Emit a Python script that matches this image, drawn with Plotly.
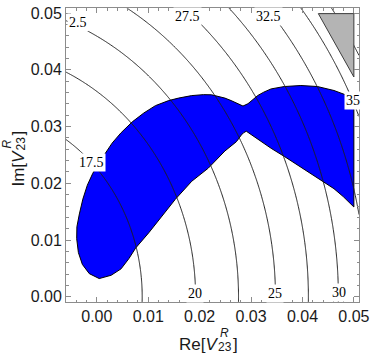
import numpy as np
import plotly.graph_objects as go

# ---------------- data ----------------
# contour model (read from where the labelled contours cross the axes):
# f(Re, Im) = F_MIN + CURV * ((Re - RE_CENTER)^2 + Im^2)
RE_CENTER = -0.0245
F_MIN = 14.03
CURV = 3125.0
LEVEL_START = 17.5
LEVEL_END = 37.5
LEVEL_STEP = 2.5

# allowed (blue) region boundary
BLUE_RE = [0.00046, -0.00147, -0.00282, -0.00359, -0.00392, -0.00388, -0.00340, -0.00272,
           -0.00185, -0.00079, 0.00046, 0.00181, 0.00297, 0.00471, 0.00689, 0.00915,
           0.01140, 0.01397, 0.01590, 0.01846, 0.02072, 0.02232, 0.02362, 0.02491,
           0.02612, 0.02747, 0.02843, 0.02940, 0.03036, 0.03133, 0.03248, 0.03390,
           0.03648, 0.03969, 0.04291, 0.04613, 0.04870, 0.05000, 0.05000, 0.04793,
           0.04613, 0.04291, 0.03969, 0.03648, 0.03390, 0.03133, 0.02973, 0.02908,
           0.02854, 0.02811, 0.02715, 0.02491, 0.02169, 0.01846, 0.01526, 0.01262,
           0.01011, 0.00754, 0.00625, 0.00471, 0.00278, 0.00046]
BLUE_IM = [0.00321, 0.00408, 0.00571, 0.00780, 0.01024, 0.01234, 0.01460, 0.01722,
           0.01967, 0.02176, 0.02368, 0.02543, 0.02708, 0.02891, 0.03083, 0.03240,
           0.03369, 0.03458, 0.03502, 0.03546, 0.03563, 0.03560, 0.03537, 0.03502,
           0.03458, 0.03403, 0.03362, 0.03403, 0.03476, 0.03549, 0.03607, 0.03664,
           0.03706, 0.03724, 0.03706, 0.03636, 0.03549, 0.03490, 0.01583, 0.01766,
           0.01905, 0.02094, 0.02298, 0.02473, 0.02617, 0.02778, 0.02879, 0.02918,
           0.02891, 0.02851, 0.02734, 0.02569, 0.02268, 0.02036, 0.01717, 0.01408,
           0.01129, 0.00858, 0.00675, 0.00492, 0.00379, 0.00321]

# excluded (gray) corner
GRAY_RE = [0.04309, 0.05000, 0.05000, 0.04309]
GRAY_IM = [0.04991, 0.04991, 0.03874, 0.04991]

# contour labels
LABEL_TEXT = ["2.5", "17.5", "27.5", "32.5", "35", "20", "25", "30"]
LABEL_RE = [-0.00376, -0.00106, 0.01766, 0.03330, 0.04990, 0.01902, 0.03465, 0.04710]
LABEL_IM = [0.04834, 0.02373, 0.04939, 0.04939, 0.03455, 0.00052, 0.00052, 0.00070]

X_TICKS = [0.00, 0.01, 0.02, 0.03, 0.04, 0.05]
X_TICK_LABELS = ["0.00", "0.01", "0.02", "0.03", "0.04", "0.05"]
Y_TICKS = [0.00, 0.01, 0.02, 0.03, 0.04, 0.05]
Y_TICK_LABELS = ["0.00", "0.01", "0.02", "0.03", "0.04", "0.05"]

X_RANGE = [-0.0060, 0.0510]
Y_RANGE = [-0.00092, 0.0509]

# ---------------- figure ----------------
W, H = 374, 357
ML, MR, MT, MB = 66, 11, 5, 55
PW, PH = W - ML - MR, H - MT - MB


def paper(px, py):
    return (px - ML) / PW, (H - MB - py) / PH


xs = np.linspace(X_RANGE[0], X_RANGE[1], 320)
ys = np.linspace(Y_RANGE[0], Y_RANGE[1], 320)
XX, YY = np.meshgrid(xs, ys)
ZZ = F_MIN + CURV * ((XX - RE_CENTER) ** 2 + YY ** 2)

fig = go.Figure()

fig.add_trace(go.Scatter(
    x=BLUE_RE, y=BLUE_IM, mode="lines", fill="toself",
    fillcolor="#0000ff", line=dict(color="#000000", width=1),
    hoverinfo="skip", showlegend=False, xaxis="x", yaxis="y"))

fig.add_trace(go.Contour(
    x=xs, y=ys, z=ZZ, xaxis="x2", yaxis="y2",
    contours=dict(start=LEVEL_START, end=LEVEL_END, size=LEVEL_STEP, coloring="lines"),
    colorscale=[[0, "#1e1e1e"], [1, "#1e1e1e"]],
    line=dict(width=1), showscale=False, hoverinfo="skip"))

fig.add_trace(go.Scatter(
    x=GRAY_RE, y=GRAY_IM, mode="lines", fill="toself",
    fillcolor="#b4b4b4", line=dict(color="#3c3c3c", width=1),
    hoverinfo="skip", showlegend=False, xaxis="x2", yaxis="y2"))

frame = "#8c8c8c"
tickfont = dict(family="Liberation Sans, Arial, sans-serif", size=16, color="#1a1a1a")
common = dict(ticks="inside", ticklen=5, tickwidth=1, tickcolor=frame,
              showline=True, linecolor=frame, linewidth=1, mirror="allticks",
              showgrid=False, zeroline=False, tickfont=tickfont,
              minor=dict(ticks="inside", ticklen=2.5, tickcolor=frame,
                         tickmode="linear", tick0=0, dtick=0.002, showgrid=False))

annotations = []
for t, xr, yi in zip(LABEL_TEXT, LABEL_RE, LABEL_IM):
    annotations.append(dict(
        x=xr, y=yi, xref="x", yref="y", text=t, showarrow=False,
        font=dict(family="Liberation Serif, Times New Roman, serif", size=14, color="#000"),
        bgcolor="#ffffff", borderpad=1, xanchor="center", yanchor="middle"))

tfont = dict(family="Liberation Sans, Arial, sans-serif", size=17, color="#1a1a1a")
sfont = dict(family="Liberation Sans, Arial, sans-serif", size=12, color="#1a1a1a")

# x title: Re[V^R_23] with stacked super/subscript
px0, py0 = paper(222, 344.5)
annotations.append(dict(x=px0, y=py0, xref="paper", yref="paper", text="Re[<i>V</i>",
                        showarrow=False, font=tfont, xanchor="right", yanchor="middle"))
px0, py0 = paper(220, 333.5)
annotations.append(dict(x=px0, y=py0, xref="paper", yref="paper", text="<i>R</i>",
                        showarrow=False, font=sfont, xanchor="left", yanchor="middle"))
px0, py0 = paper(218.5, 347.5)
annotations.append(dict(x=px0, y=py0, xref="paper", yref="paper", text="23",
                        showarrow=False, font=sfont, xanchor="left", yanchor="middle"))
px0, py0 = paper(233.5, 344.5)
annotations.append(dict(x=px0, y=py0, xref="paper", yref="paper", text="]",
                        showarrow=False, font=tfont, xanchor="left", yanchor="middle"))

# y title: Im[V^R_23], rotated
cx_main = 17.5
px0, py0 = paper(cx_main, 167)
annotations.append(dict(x=px0, y=py0, xref="paper", yref="paper", text="Im[<i>V</i>",
                        showarrow=False, font=tfont, textangle=-90,
                        xanchor="center", yanchor="middle"))
px0, py0 = paper(cx_main - 10.8, 142.5)
annotations.append(dict(x=px0, y=py0, xref="paper", yref="paper", text="<i>R</i>",
                        showarrow=False, font=sfont, textangle=-90,
                        xanchor="center", yanchor="middle"))
px0, py0 = paper(cx_main + 3.2, 141.5)
annotations.append(dict(x=px0, y=py0, xref="paper", yref="paper", text="23",
                        showarrow=False, font=sfont, textangle=-90,
                        xanchor="center", yanchor="middle"))
px0, py0 = paper(cx_main, 131.5)
annotations.append(dict(x=px0, y=py0, xref="paper", yref="paper", text="]",
                        showarrow=False, font=tfont, textangle=-90,
                        xanchor="center", yanchor="middle"))

fig.update_layout(
    width=W, height=H,
    margin=dict(l=ML, r=MR, t=MT, b=MB),
    paper_bgcolor="#ffffff", plot_bgcolor="#ffffff",
    showlegend=False,
    xaxis=dict(range=X_RANGE, tickmode="array", tickvals=X_TICKS, ticktext=X_TICK_LABELS, **common),
    yaxis=dict(range=Y_RANGE, tickmode="array", tickvals=Y_TICKS, ticktext=Y_TICK_LABELS, **common),
    xaxis2=dict(range=X_RANGE, overlaying="x", visible=False, anchor="y2"),
    yaxis2=dict(range=Y_RANGE, overlaying="y", visible=False, anchor="x2"),
    annotations=annotations,
)

fig.write_html(
    "out.html",
    config={"displayModeBar": False},
    post_script="document.body.style.margin='0';document.body.style.overflow='hidden';",
)
